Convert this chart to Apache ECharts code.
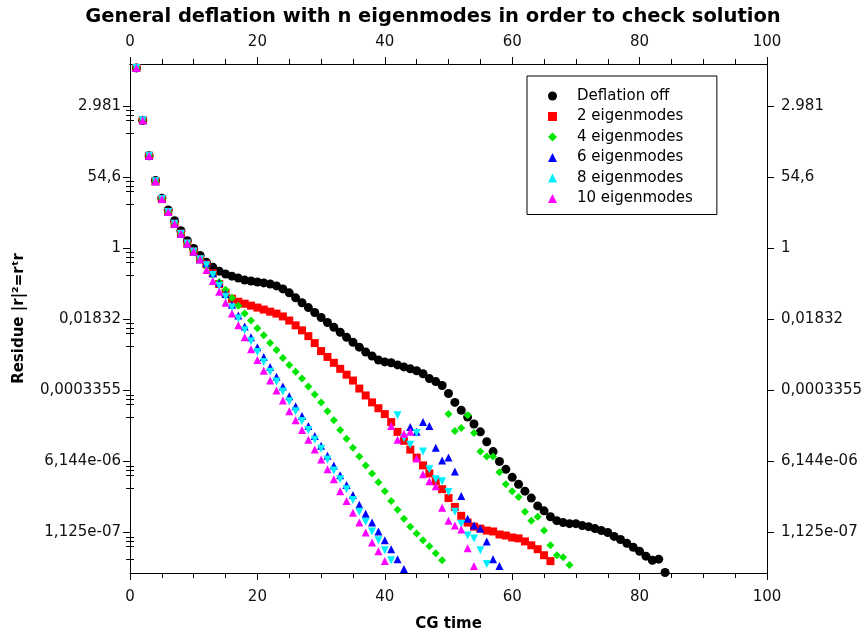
<!DOCTYPE html>
<html>
<head>
<meta charset="utf-8">
<script src="https://cdn.jsdelivr.net/npm/echarts@6/dist/echarts.min.js"></script>
<style>html,body{margin:0;padding:0;background:#fff;}#c{width:866px;height:637px;}</style>
</head>
<body>
<div id="c"></div>
<script>
// CG time of the first stored point of every series
const tStart = 1;
// ln(residue) values, one per CG time step, starting at tStart
const offLn = [10.17,7.22,5.22,3.83,2.83,2.17,1.56,1.0,0.44,0,
  -0.39,-0.78,-1.06,-1.28,-1.44,-1.56,-1.67,-1.78,-1.83,-1.89,
  -1.94,-2.0,-2.11,-2.28,-2.5,-2.78,-3.06,-3.33,-3.61,-3.89,
  -4.17,-4.44,-4.72,-5.0,-5.28,-5.56,-5.83,-6.06,-6.28,-6.39,
  -6.44,-6.56,-6.67,-6.78,-6.89,-7.06,-7.33,-7.5,-7.72,-8.17,
  -8.67,-9.11,-9.5,-9.89,-10.33,-10.89,-11.44,-12.0,-12.44,-12.89,
  -13.28,-13.67,-14.06,-14.5,-14.78,-15.11,-15.33,-15.44,-15.5,-15.5,
  -15.61,-15.67,-15.78,-15.89,-16.0,-16.22,-16.39,-16.61,-16.83,-17.06,
  -17.33,-17.56,-17.5,-18.25];
const ev2Ln = [10.17,7.22,5.22,3.78,2.78,2.06,1.39,0.83,0.28,-0.17,-0.61,
  -0.89,-1.39,-2.0,-2.5,-2.83,-3.0,-3.11,-3.22,-3.33,-3.44,
  -3.56,-3.67,-3.83,-4.06,-4.33,-4.61,-4.94,-5.33,-5.78,-6.11,
  -6.44,-6.78,-7.11,-7.44,-7.89,-8.28,-8.67,-9.0,-9.33,-9.78,
  -10.33,-10.83,-11.33,-11.78,-12.22,-12.67,-13.11,-13.56,-14.06,-14.56,
  -15.06,-15.44,-15.67,-15.78,-15.89,-15.94,-16.11,-16.17,-16.28,-16.33,
  -16.5,-16.72,-16.94,-17.28,-17.61];
const ev4Ln = [10.17,7.22,5.22,3.78,2.78,2.06,1.39,0.83,0.28,-0.17,-0.61,
  -1.0,-1.5,-1.89,-2.33,-2.78,-3.22,-3.67,-4.06,-4.5,-4.89,
  -5.33,-5.72,-6.17,-6.56,-6.94,-7.33,-7.78,-8.22,-8.67,-9.17,
  -9.67,-10.22,-10.72,-11.22,-11.72,-12.22,-12.67,-13.17,-13.67,-14.22,
  -14.72,-15.22,-15.67,-16.06,-16.44,-16.78,-17.17,-17.56,
  -9.33,-10.28,-10.11,-9.39,-10.39,-11.44,-11.72,-11.72,-12.61,-13.28,
  -13.67,-14.0,-14.83,-15.33,-15.11,-15.89,-16.72,-17.28,-17.39,-17.83];
const ev6Ln = [10.17,7.22,5.22,3.78,2.78,2.06,1.39,0.83,0.28,-0.17,-0.61,
  -0.83,-1.39,-1.94,-2.56,-3.17,-3.78,-4.39,-5.0,-5.56,-6.11,
  -6.67,-7.22,-7.78,-8.33,-8.89,-9.44,-10.0,-10.56,-11.11,-11.67,
  -12.22,-12.78,-13.33,-13.89,-14.44,-14.94,-15.44,-15.94,-16.44,-16.94,
  -17.5,-18.06,
  -10.06,-10.33,-9.78,-10.0,-11.22,-11.94,-11.78,-12.56,-13.94,-15.22,
  -15.61,-15.78,-16.5,-17.5,-17.89];
const ev8Ln = [10.17,7.22,5.22,3.78,2.78,2.06,1.39,0.83,0.28,-0.17,-0.61,
  -0.94,-1.5,-2.11,-2.72,-3.33,-3.94,-4.61,-5.22,-5.83,-6.39,
  -6.94,-7.5,-8.06,-8.61,-9.17,-9.72,-10.22,-10.78,-11.28,-11.89,
  -12.5,-13.0,-13.56,-14.17,-14.83,-15.39,-15.94,-16.44,-17.0,-17.56,
  -9.39,-10.67,-11.06,-10.39,-11.44,-12.44,-13.0,-13.11,-13.72,-14.83,
  -15.5,-16.17,-16.33,-17.0,-17.78];
const ev10Ln = [10.17,7.22,5.22,3.78,2.78,2.06,1.39,0.83,0.28,-0.17,-0.61,
  -1.22,-1.83,-2.44,-3.06,-3.67,-4.33,-5.0,-5.67,-6.28,-6.89,
  -7.44,-8.0,-8.56,-9.17,-9.67,-10.22,-10.78,-11.33,-11.89,-12.44,
  -13.0,-13.67,-14.22,-14.89,-15.44,-16.0,-16.56,-17.06,-17.61,
  -10.0,-10.78,-10.44,-10.33,-11.83,-12.72,-13.11,-13.39,-14.61,-15.33,
  -15.61,-15.83,-16.89,-17.89];

const seriesNames = ['Deflation off','2 eigenmodes','4 eigenmodes','6 eigenmodes','8 eigenmodes','10 eigenmodes'];
// y ticks: ln values and their printed labels
const yTickLn = [8,4,0,-4,-8,-12,-16];
const yTickLabels = ['2.981','54,6','1','0,01832','0,0003355','6,144e-06','1,125e-07'];
const yMinorOffsets = [-0.24,-0.5,-0.8,-1.53];

const yMin = -18.28, yMax = 10.39;
const FONT = 'DejaVu Sans';

function pairs(arr){ return arr.map((v,i)=>[tStart+i, v]); }
const minorLn = [];
yTickLn.forEach(L=>yMinorOffsets.forEach(o=>{ const v=L+o; if(v>yMin) minorLn.push(v); }));

const labelMap = {};
yTickLn.forEach((v,i)=>labelMap[v]=yTickLabels[i]);

const tickLabel = {color:'#111', fontFamily:FONT, fontSize:15};
function xAxisDef(pos, showName){
  return {
    type:'value', position:pos, min:0, max:100, interval:20,
    name: showName ? 'CG time' : '', nameLocation:'middle', nameGap:44,
    nameTextStyle:{fontFamily:FONT, fontWeight:'bold', fontSize:15, color:'#000'},
    axisLine:{show:true, onZero:false, lineStyle:{color:'#000', width:1}},
    axisTick:{show:true, inside:false, length:7, lineStyle:{color:'#000'}},
    minorTick:{show:true, splitNumber:4, length:5, lineStyle:{color:'#000'}},
    axisLabel:{...tickLabel, margin:pos==='top'?14:17},
    splitLine:{show:false}
  };
}
function yAxisDef(pos, showName){
  return {
    type:'value', position:pos, min:yMin, max:yMax,
    name: showName ? 'Residue |r|²=rᵗr' : '', nameLocation:'middle', nameGap:103,
    nameTextStyle:{fontFamily:FONT, fontWeight:'bold', fontSize:15, color:'#000'},
    axisLine:{show:true, onZero:false, lineStyle:{color:'#000', width:1}},
    axisTick:{show:true, length:7, customValues:yTickLn, lineStyle:{color:'#000'}},
    axisLabel:{...tickLabel, margin:pos==='left'?9:14, customValues:yTickLn,
      formatter:(v)=>labelMap[Math.round(v)] ?? ''},
    splitLine:{show:false}
  };
}
function yMinorDef(pos){
  return {
    type:'value', position:pos, min:yMin, max:yMax,
    axisLine:{show:false},
    axisTick:{show:true, length:4, customValues:minorLn, lineStyle:{color:'#000'}},
    axisLabel:{show:false},
    splitLine:{show:false}
  };
}

const styles = [
  {symbol:'circle', size:9, color:'#000000'},
  {symbol:'rect', size:8, color:'#ff0000'},
  {symbol:'diamond', size:8, color:'#00e600'},
  {symbol:'triangle', size:8, color:'#0000ff'},
  {symbol:'triangle', size:8, color:'#00f0ff', rotate:180},
  {symbol:'triangle', size:8, color:'#ff00ff'}
];
const dataSets = [offLn, ev2Ln, ev4Ln, ev6Ln, ev8Ln, ev10Ln];

const series = dataSets.map((d,i)=>({
  name: seriesNames[i], type:'scatter', xAxisIndex:0, yAxisIndex:0,
  symbol: styles[i].symbol, symbolSize: styles[i].size, symbolRotate: styles[i].rotate || 0,
  itemStyle:{color:styles[i].color, opacity:1},
  clip:false,
  data: pairs(d)
}));

const chart = echarts.init(document.getElementById('c'), null, {renderer:'canvas'});
chart.setOption({
  animation:false,
  backgroundColor:'#fff',
  title:{text:'General deflation with n eigenmodes in order to check solution', left:'center', top:2,
    textStyle:{fontFamily:FONT, fontWeight:'bold', fontSize:19.5, color:'#000'}},
  grid:{left:130, right:99, top:64, bottom:57, containLabel:false},
  legend:{
    orient:'vertical', left:527, top:76,
    data: seriesNames.map((n,i)=>({name:n, icon:styles[i].symbol, itemStyle:{color:styles[i].color}})),
    itemWidth:9, itemHeight:9, itemGap:2.5,
    padding:[11,24,7,21],
    borderColor:'#000', borderWidth:1, backgroundColor:'#fff',
    textStyle:{fontFamily:FONT, fontSize:15, color:'#000', lineHeight:18, padding:[0,0,0,15]}
  },
  xAxis:[xAxisDef('bottom', true), xAxisDef('top', false)],
  yAxis:[yAxisDef('left', true), yAxisDef('right', false), yMinorDef('left'), yMinorDef('right')],
  series: series
});
</script>
</body>
</html>
